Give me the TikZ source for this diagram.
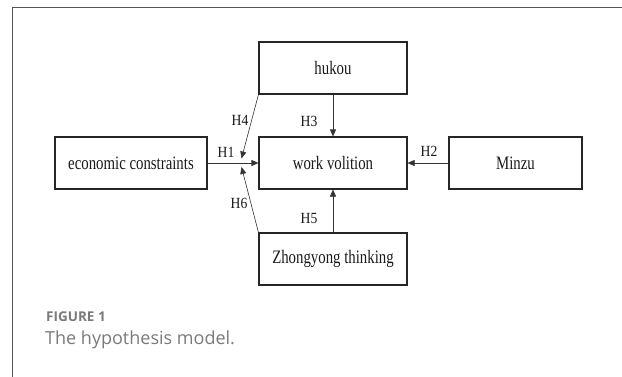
\documentclass[tikz,border=0pt]{standalone}
\usepackage{fontspec}
\setmainfont[FakeStretch=0.78]{Liberation Serif}
\newfontfamily\labfont[FakeStretch=0.88]{Liberation Serif}
\newfontfamily\capfont{Open Sans}
\usetikzlibrary{positioning,arrows.meta,calc}
\definecolor{framegray}{HTML}{555555}
\definecolor{capgray}{HTML}{7A7A7A}
\tikzset{
  varbox/.style={draw=black!85,line width=1.1pt,minimum width=148pt,minimum height=52pt,inner sep=0pt,text=black!90,font=\fontsize{19}{22}\selectfont},
  hlab/.style={inner sep=0pt,text=black!90,font=\labfont\fontsize{15.5}{17}\selectfont},
  link/.style={-{Triangle[length=7pt,width=6pt]},line width=0.6pt,draw=black!80},
}

\begin{document}
\begin{tikzpicture}[x=1pt,y=-1pt]
\useasboundingbox (0,0) rectangle (622,376);
% panel frame
\draw[framegray,line width=1pt] (12.5,380) -- (12.5,7) -- (626,7);
% variables
\node[varbox] (hukou) at (333,68) {hukou};
\node[varbox] (wv) at (333,163) {work volition};
\node[varbox,minimum width=152pt] (econ) at (131,163) {economic constraints};
\node[varbox,minimum width=133pt] (minzu) at (515.5,163) {Minzu};
\node[varbox] (zy) at (333,259) {Zhongyong thinking};
% moderating paths end on the H1 arrow
\coordinate (m4) at (241.5,158.5);
\coordinate (m6) at (241.5,167);
\draw[link] (econ) -- (wv);
\draw[link] (minzu) -- (wv);
\draw[link] (hukou) -- (wv);
\draw[link] (zy) -- (wv);
\draw[link] (hukou.south west) -- (m4);
\draw[link] (zy.north west) -- (m6);
% hypothesis labels
\node[hlab] (h1) at (226,152) {H1};
\node[hlab] (h2) at (429,151) {H2};
\node[hlab] (h3) at (309,121) {H3};
\node[hlab] (h4) at (240,120) {H4};
\node[hlab] (h5) at (309,218) {H5};
\node[hlab] (h6) at (239,203) {H6};
% caption
\node[anchor=base west,inner sep=0pt,text=capgray,font=\capfont\bfseries\fontsize{13.5}{15}\selectfont] (fig) at (46,321.5) {FIGURE 1};
\node[anchor=base west,inner sep=0pt,text=capgray,font=\capfont\fontsize{18}{20}\selectfont] (cap) at (45,344) {The hypothesis model.};
\end{tikzpicture}
\end{document}
